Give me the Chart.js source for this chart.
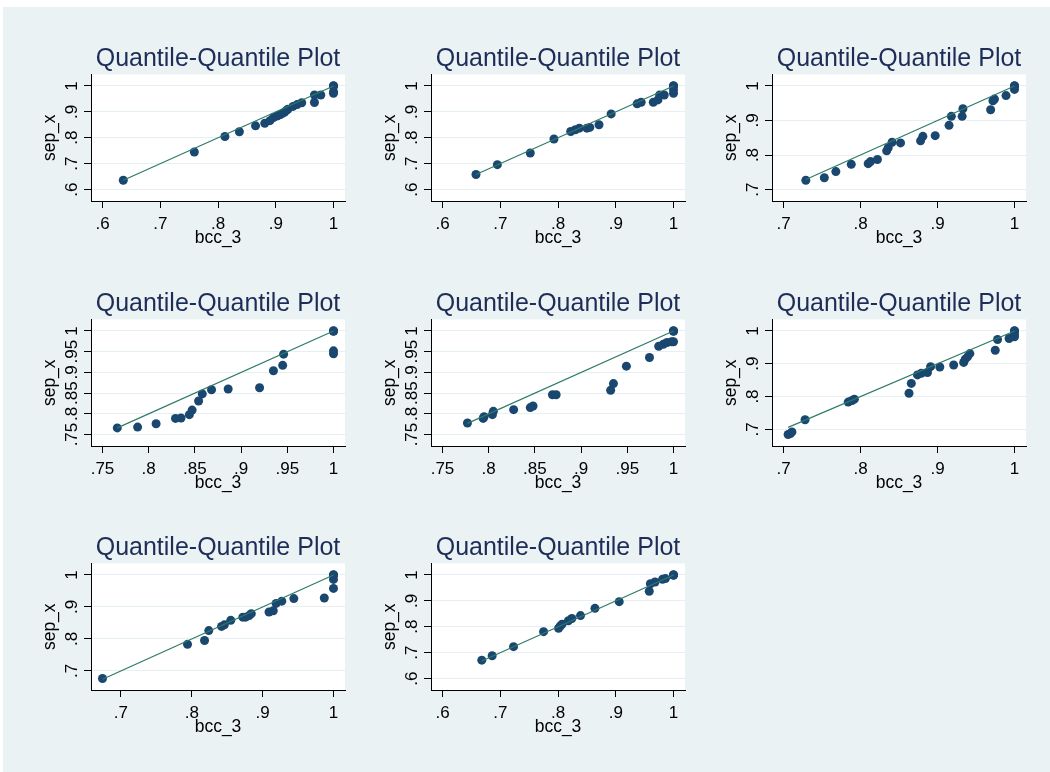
<!DOCTYPE html>
<html><head><meta charset="utf-8">
<script src="https://cdn.jsdelivr.net/npm/chart.js@4.4.1/dist/chart.umd.min.js"></script>
<style>
html,body{margin:0;padding:0;background:#fff;width:1050px;height:772px;overflow:hidden}
#bg{position:absolute;left:3px;top:7px;right:0;bottom:0;background:#eaf2f3}
canvas{position:absolute}
</style></head><body><div id="bg"></div>
<canvas id="c0" width="344" height="227" style="left:6px;top:24px"></canvas>
<canvas id="c1" width="344" height="227" style="left:346px;top:24px"></canvas>
<canvas id="c2" width="344" height="227" style="left:687px;top:24px"></canvas>
<canvas id="c3" width="344" height="227" style="left:6px;top:269px"></canvas>
<canvas id="c4" width="344" height="227" style="left:346px;top:269px"></canvas>
<canvas id="c5" width="344" height="227" style="left:687px;top:269px"></canvas>
<canvas id="c6" width="344" height="227" style="left:6px;top:513px"></canvas>
<canvas id="c7" width="344" height="227" style="left:346px;top:513px"></canvas>
<script>
const titleText = 'Quantile-Quantile Plot';
const xTitle = 'bcc_3';
const yTitle = 'sep_x';

const ticksA = [0.6, 0.7, 0.8, 0.9, 1];
const ticksB = [0.7, 0.8, 0.9, 1];
const ticksC = [0.75, 0.8, 0.85, 0.9, 0.95, 1];

const p1x = [0.636,0.759,0.812,0.837,0.865,0.881,0.890,0.896,0.902,0.907,0.911,0.915,0.918,0.921,0.930,0.937,0.945,0.967,0.967,0.978,1,1,1,1,1];
const p1y = [0.636,0.745,0.805,0.823,0.846,0.856,0.866,0.878,0.884,0.889,0.893,0.898,0.905,0.910,0.921,0.928,0.935,0.936,0.965,0.965,0.972,0.978,1,1,1];

const p2x = [0.658,0.695,0.752,0.793,0.822,0.830,0.837,0.850,0.855,0.871,0.892,0.937,0.944,0.965,0.973,0.976,0.984,1,1,1,1,1];
const p2y = [0.658,0.696,0.741,0.795,0.824,0.831,0.837,0.837,0.840,0.850,0.892,0.931,0.937,0.937,0.946,0.965,0.965,0.972,0.985,1,1,1];

const p3x = [0.729,0.753,0.768,0.788,0.810,0.813,0.822,0.834,0.836,0.841,0.852,0.878,0.881,0.897,0.915,0.918,0.932,0.933,0.969,0.972,0.974,0.989,1,1,1,1];
const p3y = [0.727,0.734,0.752,0.773,0.775,0.781,0.787,0.812,0.821,0.837,0.835,0.841,0.854,0.856,0.886,0.912,0.912,0.934,0.931,0.957,0.962,0.972,0.990,1,1,1];

const p4x = [0.766,0.788,0.808,0.829,0.835,0.844,0.847,0.854,0.858,0.868,0.886,0.920,0.935,0.945,0.946,1,1,1,1,1];
const p4y = [0.766,0.768,0.776,0.789,0.790,0.798,0.809,0.831,0.848,0.858,0.860,0.863,0.904,0.917,0.944,0.945,0.952,1,1,1];

const p5x = [0.777,0.794,0.795,0.804,0.805,0.827,0.845,0.848,0.869,0.873,0.932,0.935,0.949,0.974,0.984,0.989,0.993,0.998,1,1,1,1];
const p5y = [0.778,0.789,0.793,0.798,0.806,0.810,0.815,0.819,0.846,0.846,0.857,0.873,0.915,0.936,0.963,0.968,0.972,0.974,0.974,1,1,1];

const p6x = [0.706,0.709,0.711,0.728,0.784,0.789,0.792,0.863,0.866,0.874,0.879,0.887,0.891,0.903,0.921,0.934,0.936,0.939,0.942,0.975,0.978,0.993,1,1,1,1,1];
const p6y = [0.684,0.687,0.692,0.729,0.783,0.788,0.792,0.810,0.840,0.866,0.871,0.873,0.891,0.890,0.896,0.904,0.914,0.921,0.931,0.941,0.974,0.977,0.982,0.989,1,1,1];

const p7x = [0.674,0.794,0.818,0.824,0.842,0.846,0.855,0.872,0.876,0.881,0.884,0.909,0.915,0.919,0.927,0.944,0.987,1,1,1,1,1];
const p7y = [0.676,0.783,0.795,0.826,0.839,0.844,0.858,0.868,0.868,0.873,0.879,0.884,0.888,0.911,0.918,0.926,0.928,0.958,0.986,1,1,1];

const p8x = [0.668,0.686,0.723,0.775,0.801,0.804,0.807,0.818,0.824,0.839,0.864,0.906,0.958,0.960,0.968,0.981,0.986,1,1,1];
const p8y = [0.671,0.688,0.723,0.781,0.794,0.803,0.810,0.823,0.832,0.843,0.871,0.897,0.937,0.966,0.973,0.983,0.986,1,1,1];

const panels = [
  {xs:p1x, ys:p1y, xt:ticksA, yt:ticksA},
  {xs:p2x, ys:p2y, xt:ticksA, yt:ticksA},
  {xs:p3x, ys:p3y, xt:ticksB, yt:ticksB},
  {xs:p4x, ys:p4y, xt:ticksC, yt:ticksC},
  {xs:p5x, ys:p5y, xt:ticksC, yt:ticksC},
  {xs:p6x, ys:p6y, xt:ticksB, yt:ticksB},
  {xs:p7x, ys:p7y, xt:ticksB, yt:ticksB},
  {xs:p8x, ys:p8y, xt:ticksA, yt:ticksA}
];

const FONT = '"Liberation Sans", Arial, Helvetica, sans-serif';
const fmt = v => (Math.abs(v - 1) < 1e-9 ? '1' : String(+v.toFixed(3)).replace(/^0/, ''));

function range(ticks, vals, len) {
  const lo = Math.min(ticks[0], Math.min(...vals));
  const hi = Math.max(ticks[ticks.length - 1], Math.max(...vals));
  const pad = (hi - lo) * 11.5 / (len - 23);
  return [lo - pad, hi + pad];
}

const plotBg = {
  id: 'plotBg',
  beforeDraw(chart) {
    const a = chart.chartArea, ctx = chart.ctx;
    ctx.save(); ctx.fillStyle = '#ffffff';
    ctx.fillRect(a.left, a.top, a.right - a.left, a.bottom - a.top);
    ctx.restore();
  }
};
const yLabels = {
  id: 'yLabels',
  afterDraw(chart) {
    const s = chart.scales.y, ctx = chart.ctx;
    ctx.save();
    ctx.font = '17px ' + FONT; ctx.fillStyle = '#000';
    ctx.textAlign = 'center'; ctx.textBaseline = 'alphabetic';
    const bx = s.right - 13.7;
    s.ticks.forEach(t => {
      const y = s.getPixelForValue(t.value);
      ctx.save(); ctx.translate(bx, y); ctx.rotate(-Math.PI / 2);
      ctx.fillText(fmt(t.value), 0, 0); ctx.restore();
    });
    ctx.restore();
  }
};

panels.forEach((p, i) => {
  const pts = p.xs.map((x, k) => ({x: x, y: p.ys[k]}));
  const x0 = p.xs[0], x1 = p.xs[p.xs.length - 1];
  const line = [{x: x0, y: x0}, {x: x1, y: x1}];
  const xr = range(p.xt, p.xs, 254);
  const yr = range(p.yt, p.ys, 127);
  new Chart(document.getElementById('c' + i), {
    type: 'scatter',
    data: {datasets: [
      {data: line, showLine: true, borderColor: '#2e7b69', borderWidth: 1.2, pointRadius: 0, order: 0},
      {data: pts, backgroundColor: '#1a476f', borderColor: '#1a476f', borderWidth: 0, pointRadius: 4.5, order: 1}
    ]},
    options: {
      responsive: false, animation: false, devicePixelRatio: 1,
      layout: {padding: {top: 20.5, right: 5, bottom: 0, left: 0}},
      plugins: {
        legend: {display: false}, tooltip: {enabled: false},
        title: {display: true, text: titleText, fullSize: false, color: '#1e2d58',
          font: {family: FONT, size: 25, weight: 'normal', lineHeight: 1.2}, padding: {top: 0, bottom: 0}}
      },
      scales: {
        x: {
          type: 'linear', position: 'bottom', min: xr[0], max: xr[1],
          afterBuildTicks: s => { s.ticks = p.xt.map(v => ({value: v})); },
          afterFit: s => { s.height = 50; },
          ticks: {callback: v => fmt(v), color: '#000', font: {family: FONT, size: 17}, padding: 5.9, maxRotation: 0, autoSkip: false},
          grid: {drawOnChartArea: false, drawTicks: true, tickLength: 7, tickColor: '#000', color: '#000', lineWidth: 1},
          border: {display: true, color: '#000', width: 1},
          title: {display: true, text: xTitle, color: '#000', font: {family: FONT, size: 17.5}, padding: {top: 0, bottom: 2.6}}
        },
        y: {
          type: 'linear', position: 'left', min: yr[0], max: yr[1],
          afterBuildTicks: s => { s.ticks = p.yt.map(v => ({value: v})); },
          afterFit: s => { s.width = 85; },
          ticks: {display: false},
          grid: {color: '#e6eff1', lineWidth: 1, drawTicks: true, tickLength: 7, tickColor: '#000'},
          border: {display: true, color: '#000', width: 1},
          title: {display: true, text: yTitle, color: '#000', font: {family: FONT, size: 17.5}, padding: {top: 33.8, bottom: 0}}
        }
      }
    },
    plugins: [plotBg, yLabels]
  });
});
</script>
</body></html>
